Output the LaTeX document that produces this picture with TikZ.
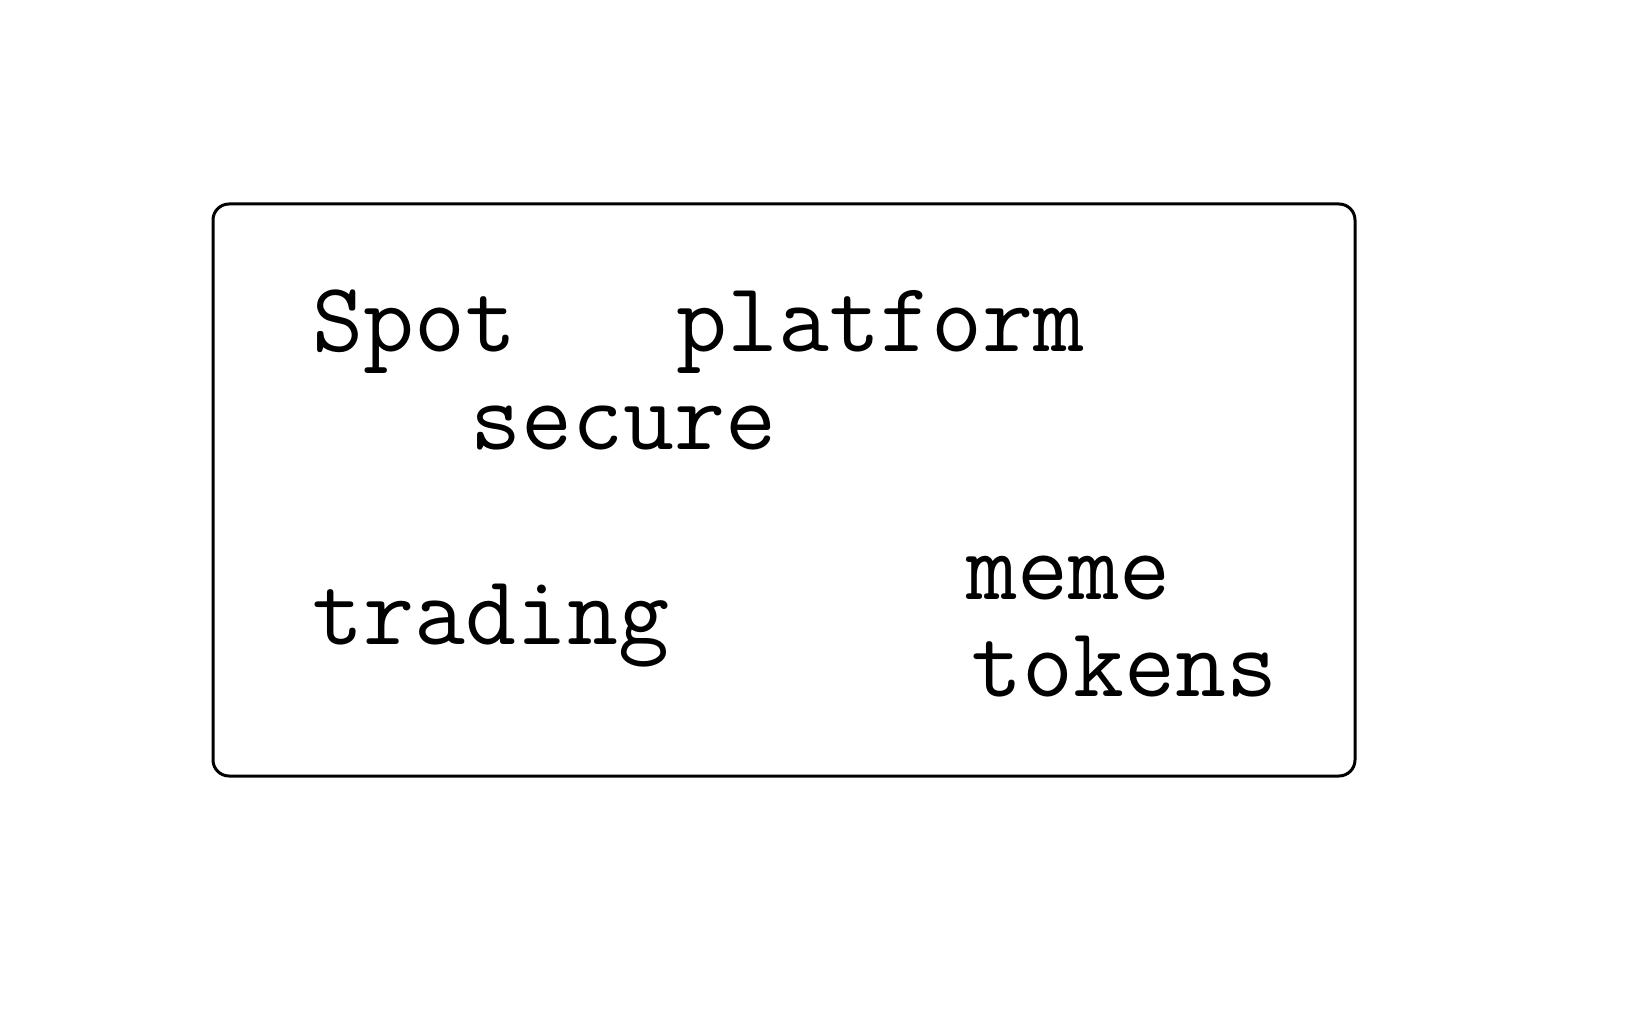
\documentclass[tikz,border=0pt]{standalone}
\usepackage{fontspec}
\setmonofont{Latin Modern Mono}
\begin{document}
\begin{tikzpicture}[x=0.5pt,y=-0.5pt,
  word/.style={anchor=base west,inner sep=0pt,font=\ttfamily\fontsize{49.5}{49.5}\selectfont}]
\useasboundingbox (0,0) rectangle (1649,1031);
\fill[white] (0,0) rectangle (1649,1031);
\draw[line width=1.5pt,rounded corners=8pt] (213,204) rectangle (1355,776);
\node[word] (spot) at (312,352) {Spot};
\node[word] (platform) at (676,352) {platform};
\node[word] (secure) at (470,450) {secure};
\node[word] (trading) at (312,645) {trading};
\node[word] (meme) at (966,600) {meme};
\node[word] (tokens) at (971,697) {tokens};
\end{tikzpicture}
\end{document}
